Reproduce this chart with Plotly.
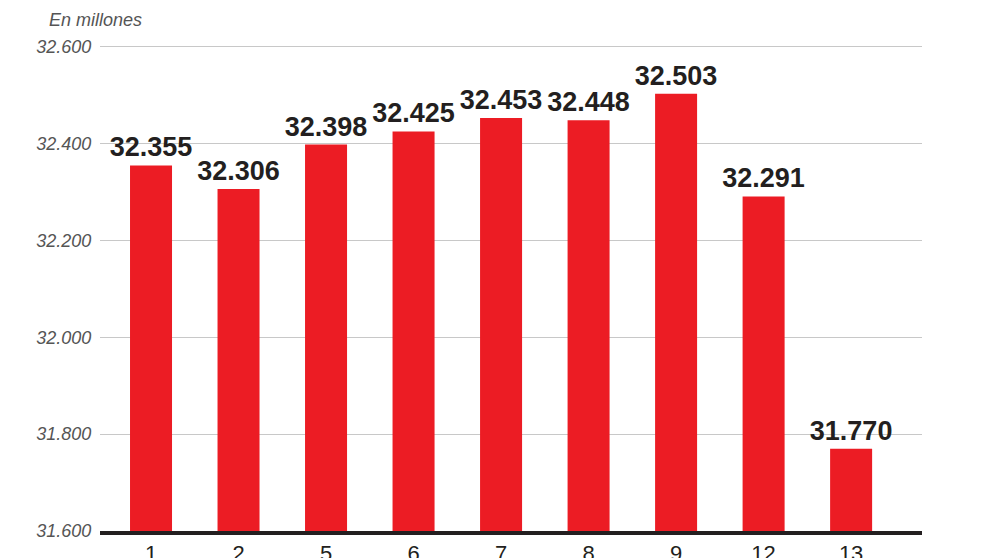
import plotly.graph_objects as go

labels = ["1", "2", "5", "6", "7", "8", "9", "12", "13"]
values = [32355, 32306, 32398, 32425, 32453, 32448, 32503, 32291, 31770]
yticks = [31600, 31800, 32000, 32200, 32400, 32600]

pos = list(range(len(labels)))
txt = ["<b>{}</b>".format("{:,}".format(v).replace(",", ".")) for v in values]

fig = go.Figure(go.Bar(
    x=pos, y=values, width=0.48, marker=dict(color="#ec1c24", line=dict(width=0)),
    text=txt, textposition="outside", cliponaxis=False, constraintext="none",
    textfont=dict(family="Liberation Sans, Arial", size=27, color="#231f20"),
))
fig.update_layout(
    width=992, height=558, plot_bgcolor="white", paper_bgcolor="white",
    margin=dict(l=92, r=78, t=0, b=35), separators=",.", showlegend=False,
    font=dict(family="Liberation Sans, Arial"),
)
fig.add_annotation(text="<i>En millones</i>", xref="paper", yref="paper", x=-0.065, y=1.0,
                   xanchor="left", yanchor="top", showarrow=False,
                   font=dict(size=18, color="#555555"))
fig.update_xaxes(tickvals=pos, ticktext=labels, range=[-0.583, 8.81], automargin=False,
                 showline=True, linecolor="#231f20", linewidth=4,
                 ticks="outside", ticklen=0, tickcolor="white",
                 tickfont=dict(size=22, color="#231f20"), showgrid=False)
fig.update_yaxes(range=[31600, 32680], tickvals=yticks, automargin=False,
                 ticktext=["<i>{:,}</i>".format(t).replace(",", ".") for t in yticks],
                 tickfont=dict(size=18, color="#555555"), showgrid=True,
                 gridcolor="#c8c8c8", gridwidth=1, zeroline=False, ticks="outside",
                 ticklen=4, tickcolor="white")
fig.write_html("out.html")
